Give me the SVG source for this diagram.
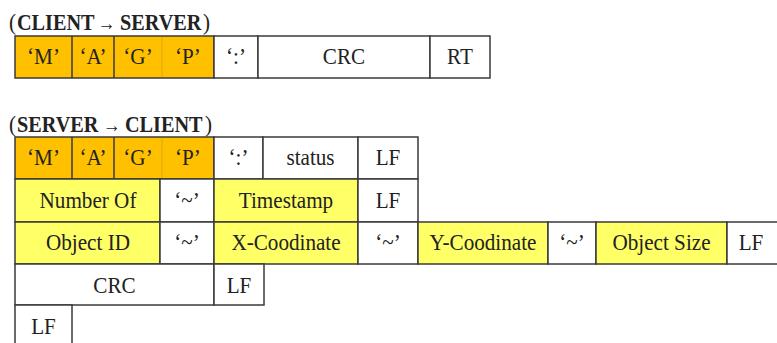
<svg xmlns="http://www.w3.org/2000/svg" width="777" height="343" viewBox="0 0 777 343">
  <style>
    .cell { stroke: #3a3a3a; stroke-width: 1.5; }
    .w { fill: #ffffff; }
    .o { fill: #ffc000; }
    .y { fill: #ffff66; }
    .seam { stroke: #d9a300; stroke-width: 0.8; }
    text { font-family: "Liberation Serif", "Times New Roman", serif; fill: #222; }
    .lbl { font-size: 22.5px; text-anchor: middle; }
    .ttl { font-size: 23px; font-weight: bold; }
    .par { font-size: 24px; font-weight: normal; }
    .arr { font-size: 20px; font-weight: normal; }
  </style>
  <rect width="777" height="343" fill="#ffffff"/>

  <!-- request frame: client to server -->
  <g id="title-client-server">
    <text class="ttl" transform="translate(0 30) scale(.88 1)"><tspan class="par" x="10.2">(</tspan><tspan x="19.3">CLIENT</tspan><tspan class="arr" x="111">→</tspan><tspan x="136.4">SERVER</tspan><tspan class="par" x="230.7">)</tspan></text>
  </g>
  <g id="req-header">
    <rect class="cell o" x="15" y="36" width="199" height="42"/>
    <line class="cell" x1="72" y1="36" x2="72" y2="78"/>
    <line class="cell" x1="114" y1="36" x2="114" y2="78"/>
    <line class="seam" x1="162" y1="37" x2="162" y2="77"/>
    <text class="lbl" transform="translate(43.5 64) scale(.94 1)">‘M’</text>
    <text class="lbl" transform="translate(93 64) scale(.94 1)">‘A’</text>
    <text class="lbl" transform="translate(138 64) scale(.94 1)">‘G’</text>
    <text class="lbl" transform="translate(188 64) scale(.94 1)">‘P’</text>
  </g>
  <g id="req-colon">
    <rect class="cell w" x="214" y="36" width="44" height="42"/>
    <text class="lbl" transform="translate(236 64) scale(.94 1)">‘:’</text>
  </g>
  <g id="req-crc">
    <rect class="cell w" x="258" y="36" width="172" height="42"/>
    <text class="lbl" transform="translate(344 64) scale(.94 1)">CRC</text>
  </g>
  <g id="req-rt">
    <rect class="cell w" x="430" y="36" width="60" height="42"/>
    <text class="lbl" transform="translate(460 64) scale(.94 1)">RT</text>
  </g>

  <!-- response frame: server to client -->
  <g id="title-server-client">
    <text class="ttl" transform="translate(0 131.5) scale(.88 1)"><tspan class="par" x="10.2">(</tspan><tspan x="19.3">SERVER</tspan><tspan class="arr" x="117">→</tspan><tspan x="142">CLIENT</tspan><tspan class="par" x="233">)</tspan></text>
  </g>

  <g id="res-header">
    <rect class="cell o" x="15" y="137" width="199" height="42"/>
    <line class="cell" x1="72" y1="137" x2="72" y2="179"/>
    <line class="cell" x1="114" y1="137" x2="114" y2="179"/>
    <line class="seam" x1="162" y1="138" x2="162" y2="178"/>
    <text class="lbl" transform="translate(43.5 165) scale(.94 1)">‘M’</text>
    <text class="lbl" transform="translate(93 165) scale(.94 1)">‘A’</text>
    <text class="lbl" transform="translate(138 165) scale(.94 1)">‘G’</text>
    <text class="lbl" transform="translate(188 165) scale(.94 1)">‘P’</text>
  </g>
  <g id="res-colon">
    <rect class="cell w" x="214" y="137" width="49" height="42"/>
    <text class="lbl" transform="translate(238.5 165) scale(.94 1)">‘:’</text>
  </g>
  <g id="res-status">
    <rect class="cell w" x="263" y="137" width="95" height="42"/>
    <text class="lbl" transform="translate(310.5 165) scale(.94 1)">status</text>
  </g>
  <g id="res-lf1">
    <rect class="cell w" x="358" y="137" width="60" height="42"/>
    <text class="lbl" transform="translate(388 165) scale(.94 1)">LF</text>
  </g>

  <g id="res-number-of">
    <rect class="cell y" x="15" y="179" width="145" height="43"/>
    <text class="lbl" transform="translate(88 207.5) scale(.94 1)">Number Of</text>
  </g>
  <g id="res-sep1">
    <rect class="cell w" x="160" y="179" width="54" height="43"/>
    <text class="lbl" transform="translate(187 207.5) scale(.94 1)">‘~’</text>
  </g>
  <g id="res-timestamp">
    <rect class="cell y" x="214" y="179" width="144" height="43"/>
    <text class="lbl" transform="translate(286 207.5) scale(.94 1)">Timestamp</text>
  </g>
  <g id="res-lf2">
    <rect class="cell w" x="358" y="179" width="60" height="43"/>
    <text class="lbl" transform="translate(388 207.5) scale(.94 1)">LF</text>
  </g>

  <g id="res-object-id">
    <rect class="cell y" x="15" y="222" width="145" height="42"/>
    <text class="lbl" transform="translate(88 250) scale(.94 1)">Object ID</text>
  </g>
  <g id="res-sep2">
    <rect class="cell w" x="160" y="222" width="54" height="42"/>
    <text class="lbl" transform="translate(187 250) scale(.94 1)">‘~’</text>
  </g>
  <g id="res-x">
    <rect class="cell y" x="214" y="222" width="144" height="42"/>
    <text class="lbl" transform="translate(286 250) scale(.94 1)">X-Coodinate</text>
  </g>
  <g id="res-sep3">
    <rect class="cell w" x="358" y="222" width="60" height="42"/>
    <text class="lbl" transform="translate(388 250) scale(.94 1)">‘~’</text>
  </g>
  <g id="res-y">
    <rect class="cell y" x="418" y="222" width="130" height="42"/>
    <text class="lbl" transform="translate(483 250) scale(.94 1)">Y-Coodinate</text>
  </g>
  <g id="res-sep4">
    <rect class="cell w" x="548" y="222" width="48" height="42"/>
    <text class="lbl" transform="translate(572 250) scale(.94 1)">‘~’</text>
  </g>
  <g id="res-size">
    <rect class="cell y" x="596" y="222" width="131" height="42"/>
    <text class="lbl" transform="translate(661.5 250) scale(.94 1)">Object Size</text>
  </g>
  <g id="res-lf3">
    <rect class="cell w" x="727" y="222" width="52" height="42"/>
    <text class="lbl" transform="translate(751 250) scale(.94 1)">LF</text>
  </g>

  <g id="res-crc">
    <rect class="cell w" x="15" y="264" width="199" height="41"/>
    <text class="lbl" transform="translate(114.5 293) scale(.94 1)">CRC</text>
  </g>
  <g id="res-lf4">
    <rect class="cell w" x="214" y="264" width="50" height="41"/>
    <text class="lbl" transform="translate(239 293) scale(.94 1)">LF</text>
  </g>
  <g id="res-lf5">
    <rect class="cell w" x="15" y="305" width="57" height="44"/>
    <text class="lbl" transform="translate(43.5 334) scale(.94 1)">LF</text>
  </g>
</svg>
